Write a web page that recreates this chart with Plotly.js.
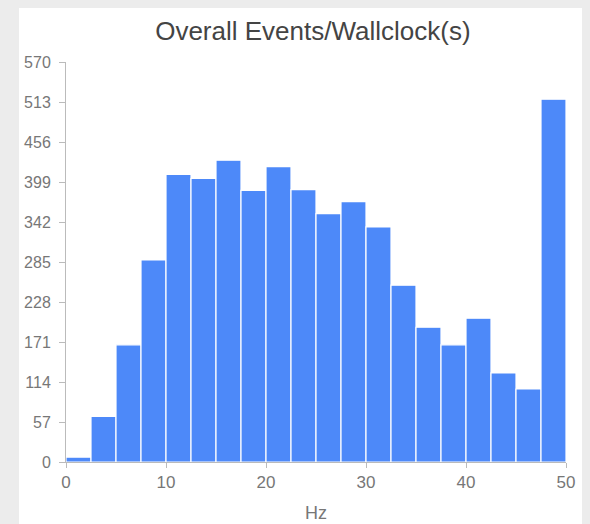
<!DOCTYPE html>
<html>
<head>
<meta charset="utf-8">
<script src="https://cdn.plot.ly/plotly-3.0.1.min.js"></script>
<style>
html,body{margin:0;padding:0;background:#ececec;width:590px;height:524px;overflow:hidden;}
#chart{position:absolute;left:19px;top:8px;width:563px;height:516px;background:#fff;}
</style>
</head>
<body>
<div id="chart"></div>
<script>
const binStarts = [0,2.5,5,7.5,10,12.5,15,17.5,20,22.5,25,27.5,30,32.5,35,37.5,40,42.5,45,47.5];
const counts = [7,65,167,288,410,404,430,387,421,388,354,371,335,252,192,167,205,127,104,517];
const yTicks = [0,57,114,171,228,285,342,399,456,513,570];
const xTicks = [0,10,20,30,40,50];
const binWidth = 2.5;

const centers = binStarts.map(s => s + binWidth/2);

Plotly.newPlot('chart', [{
  type: 'bar',
  x: centers,
  y: counts,
  width: binStarts.map(() => binWidth),
  marker: {color: '#4d89f9', line: {color: '#ffffff', width: 1.2}},
  hoverinfo: 'none'
}], {
  width: 563, height: 516,
  margin: {l: 47, r: 16, t: 54, b: 62},
  paper_bgcolor: '#ffffff', plot_bgcolor: '#ffffff',
  font: {family: 'Liberation Sans, Arial, sans-serif', color: '#666'},
  title: {text: 'Overall Events/Wallclock(s)', font: {size: 26, color: '#444'}, x: 0.522, xanchor: 'center', y: 0.955, yanchor: 'middle'},
  bargap: 0,
  showlegend: false,
  xaxis: {
    range: [0, 50], tickvals: xTicks, ticktext: xTicks.map(String),
    showgrid: false, zeroline: false, showline: true, linecolor: '#bbb', linewidth: 1,
    ticks: 'outside', ticklen: 5, tickcolor: '#bbb',
    tickfont: {size: 17, color: '#777'},
    title: {text: 'Hz', font: {size: 18, color: '#777'}, standoff: 14}
  },
  yaxis: {
    range: [0, 570], tickvals: yTicks, ticktext: yTicks.map(String),
    showgrid: false, zeroline: false, showline: true, linecolor: '#bbb', linewidth: 1,
    ticks: 'outside', ticklen: 6, tickcolor: '#bbb', ticklabelstandoff: 5,
    tickfont: {size: 16, color: '#777'}
  }
}, {displayModeBar: false, staticPlot: true});
</script>
</body>
</html>
